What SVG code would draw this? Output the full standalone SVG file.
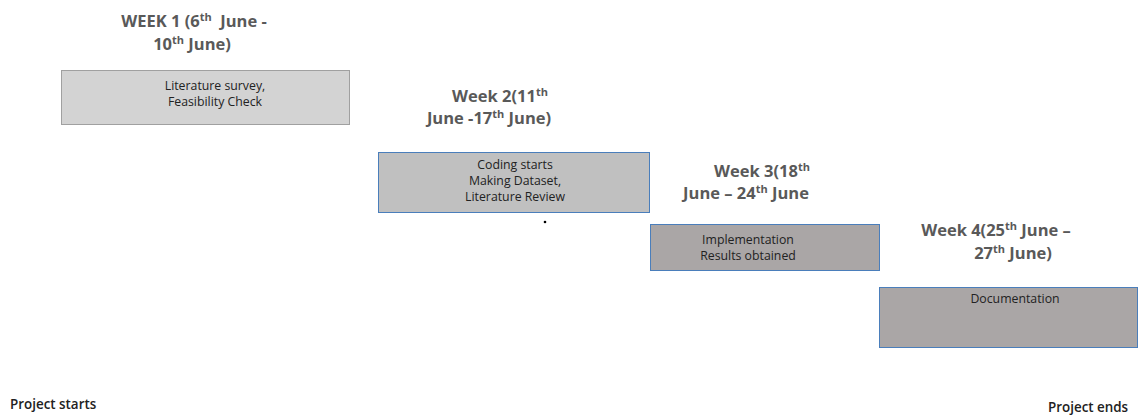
<svg xmlns="http://www.w3.org/2000/svg" width="1142" height="415" viewBox="0 0 1142 415">
<style>
.title{font-family:"Open Sans","Liberation Sans",sans-serif;font-weight:bold;font-size:16.5px;fill:#595959;text-anchor:middle}
.sup{font-size:11px}
.label{font-family:"Open Sans","Liberation Sans",sans-serif;font-size:12.3px;fill:#222;text-anchor:middle}
.foot{font-family:"Open Sans","Liberation Sans",sans-serif;font-weight:600;font-size:13.4px;fill:#222}
</style>
<rect width="1142" height="415" fill="#ffffff"/>
<g id="week1">
<text class="title" x="194" y="27">WEEK 1 (6<tspan class="sup" dy="-6">th</tspan><tspan dy="6">&#160; June -</tspan></text>
<text class="title" x="192" y="50">10<tspan class="sup" dy="-6">th</tspan><tspan dy="6"> June)</tspan></text>
<rect x="61.5" y="70.5" width="288" height="54" fill="#d3d3d3" stroke="#a0a0a0"/>
<text class="label" x="215" y="90">Literature survey,</text>
<text class="label" x="215" y="106">Feasibility Check</text>
</g>
<g id="week2">
<text class="title" x="500" y="102">Week 2(11<tspan class="sup" dy="-6">th</tspan></text>
<text class="title" x="489" y="124">June -17<tspan class="sup" dy="-6">th</tspan><tspan dy="6"> June)</tspan></text>
<rect x="378.5" y="152.5" width="271" height="60" fill="#c0c0c0" stroke="#4a7ebb"/>
<text class="label" x="515" y="169">Coding starts</text>
<text class="label" x="515" y="185">Making Dataset,</text>
<text class="label" x="515" y="201">Literature Review</text>
<circle cx="545" cy="222" r="1.3" fill="#000"/>
</g>
<g id="week3">
<text class="title" x="762" y="177">Week 3(18<tspan class="sup" dy="-6">th</tspan></text>
<text class="title" x="746" y="199">June – 24<tspan class="sup" dy="-6">th</tspan><tspan dy="6"> June</tspan></text>
<rect x="650.5" y="224.5" width="229" height="46" fill="#aaa6a6" stroke="#4a7ebb"/>
<text class="label" x="748" y="244">Implementation</text>
<text class="label" x="748" y="260">Results obtained</text>
</g>
<g id="week4">
<text class="title" x="996" y="236">Week 4(25<tspan class="sup" dy="-6">th</tspan><tspan dy="6"> June –</tspan></text>
<text class="title" x="1013" y="259">27<tspan class="sup" dy="-6">th</tspan><tspan dy="6"> June)</tspan></text>
<rect x="879.5" y="287.5" width="258" height="60" fill="#aaa6a6" stroke="#4a7ebb"/>
<text class="label" x="1015" y="303">Documentation</text>
</g>
<g id="connectors"></g>
<g id="footer">
<text class="foot" x="10" y="409">Project starts</text>
<text class="foot" x="1048" y="412">Project ends</text>
</g>
</svg>
